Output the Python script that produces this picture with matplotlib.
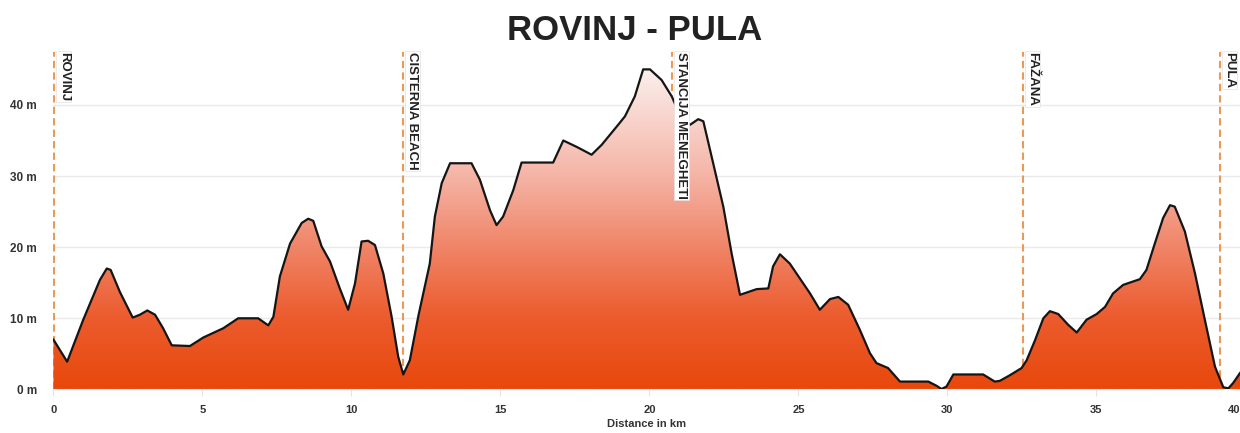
import numpy as np
import matplotlib
matplotlib.use("Agg")
import matplotlib.pyplot as plt
from matplotlib.colors import LinearSegmentedColormap

plt.rcParams["font.family"] = ["Liberation Sans", "DejaVu Sans"]

# profil trase (km, m) ocitano sa slike
distance_km = [
    0.0, 0.46, 1.0, 1.56, 1.79, 1.92, 2.23, 2.66, 2.9, 3.15, 3.41, 3.68, 3.97,
    4.58, 5.03, 5.7, 6.2, 6.87, 7.21, 7.38, 7.6, 7.94, 8.33, 8.55, 8.72, 9.0,
    9.28, 9.61, 9.89, 10.12, 10.34, 10.56, 10.79, 11.07, 11.35, 11.57, 11.74,
    11.96, 12.25, 12.63, 12.8, 13.03, 13.31, 14.03, 14.31, 14.65, 14.87, 15.09,
    15.43, 15.71, 16.77, 17.11, 17.56, 18.06, 18.4, 18.95, 19.18, 19.51, 19.79,
    20.02, 20.41, 20.75, 20.95, 21.15, 21.36, 21.64, 21.81, 22.14, 22.48, 22.76,
    23.04, 23.32, 23.6, 23.99, 24.15, 24.38, 24.71, 25.05, 25.39, 25.72, 26.06,
    26.34, 26.67, 27.06, 27.4, 27.62, 28.01, 28.41, 29.36, 29.64, 29.8, 29.97,
    30.2, 31.2, 31.59, 31.76, 32.1, 32.49, 32.66, 32.94, 33.22, 33.44, 33.72,
    34.05, 34.34, 34.67, 35.01, 35.29, 35.56, 35.9, 36.46, 36.68, 36.96, 37.24,
    37.47, 37.63, 37.97, 38.31, 38.64, 38.98, 39.26, 39.43, 39.59, 39.82,
]
elevation_m = [
    7.0, 3.9, 9.8, 15.4, 17.0, 16.8, 13.7, 10.1, 10.5, 11.1, 10.5, 8.6, 6.2,
    6.1, 7.3, 8.6, 10.0, 10.0, 9.0, 10.2, 15.9, 20.5, 23.4, 24.0, 23.7, 20.1,
    18.0, 14.2, 11.2, 14.9, 20.8, 20.9, 20.3, 16.3, 10.2, 4.6, 2.1,
    4.1, 10.4, 17.7, 24.3, 29.0, 31.8, 31.8, 29.5, 25.2, 23.1, 24.3,
    28.0, 31.9, 31.9, 35.0, 34.1, 33.0, 34.4, 37.2, 38.4, 41.2, 45.0,
    45.0, 43.5, 41.2, 39.3, 38.0, 37.2, 38.0, 37.7, 31.8, 25.7, 19.1,
    13.3, 13.7, 14.1, 14.2, 17.3, 19.0, 17.7, 15.6, 13.5, 11.2, 12.7,
    13.0, 11.9, 8.4, 5.1, 3.7, 3.0, 1.1, 1.1, 0.5, 0.05, 0.4,
    2.1, 2.1, 1.1, 1.2, 2.0, 3.0, 4.1, 6.9, 10.0, 11.0, 10.6,
    9.1, 8.0, 9.8, 10.6, 11.6, 13.5, 14.7, 15.5, 16.8, 20.5, 24.1,
    25.9, 25.7, 22.2, 16.3, 9.8, 3.2, 0.3, 0.15, 0.9, 2.3,
]

# mjesta na trasi
place_names = ["ROVINJ", "CISTERNA BEACH", "STANCIJA MENEGHETI", "FAŽANA", "PULA"]
place_km = [0.03, 11.73, 20.75, 32.53, 39.15]

y_ticks = [0, 10, 20, 30, 40]
y_tick_labels = ["0 m", "10 m", "20 m", "30 m", "40 m"]
x_ticks = [0, 5, 10, 15, 20, 25, 30, 35, 40]

x_max = 39.82
y_max = 47.45

fig = plt.figure(figsize=(12.4, 4.33), dpi=100)
ax = fig.add_axes([0.0431, 0.1007, 0.9569, 0.7793])

# gradijent ispune
cmap = LinearSegmentedColormap.from_list("profil", [
    (0.0, "#e8480c"),
    (0.22, "#ec5c2e"),
    (0.44, "#f0866a"),
    (0.66, "#f5b6a8"),
    (0.87, "#f9dcd6"),
    (1.0, "#fdf3f1"),
])
poly = ax.fill_between(distance_km, elevation_m, 0, facecolor="none",
                       edgecolor="none", zorder=2)
grad = np.linspace(0, 1, 256).reshape(-1, 1)
img = ax.imshow(grad, extent=[0, x_max, 0, 46], aspect="auto", cmap=cmap,
                origin="lower", zorder=2, interpolation="bilinear")
img.set_clip_path(poly.get_paths()[0], transform=ax.transData)

ax.plot(distance_km, elevation_m, color="#151515", linewidth=1.6, zorder=3,
        solid_joinstyle="round")

# okomite oznake mjesta
for name, km in zip(place_names, place_km):
    ax.axvline(km, color="#eb9a55", linestyle=(0, (3.5, 2.0)), linewidth=1.5,
               zorder=1)
    ax.annotate(name, xy=(km, y_max), xytext=(2.5, 0), textcoords="offset points",
                rotation=-90, ha="left", va="top", fontsize=9.5, fontweight="bold",
                color="#222222", zorder=4,
                bbox=dict(boxstyle="square,pad=0.1", facecolor="white",
                          edgecolor="#e2e2e2", linewidth=0.5))

ax.set_xlim(0, x_max)
ax.set_ylim(0, y_max)

ax.set_yticks(y_ticks)
ax.set_yticklabels(y_tick_labels, fontsize=8.5, fontweight="bold", color="#333333")
ax.tick_params(axis="y", length=0, pad=12)
ax.grid(axis="y", color="#eaeaea", linewidth=1)
ax.set_axisbelow(True)

tick_pos = [min(t, x_max) for t in x_ticks]
ax.set_xticks(tick_pos)
ax.set_xticklabels([str(t) for t in x_ticks], fontsize=8, fontweight="bold",
                   color="#333333")
ax.get_xticklabels()[-1].set_ha("right")
ax.tick_params(axis="x", length=5, color="#e4e4e4", pad=6)
ax.set_xlabel("Distance in km", fontsize=8, fontweight="bold", color="#333333",
              labelpad=3)

for side in ["top", "left", "right"]:
    ax.spines[side].set_visible(False)
ax.spines["bottom"].set_color("#e8e8e8")

fig.text(0.512, 0.93, "ROVINJ - PULA", ha="center", va="center", fontsize=25,
         fontweight="bold", color="#222222")

fig.savefig("out.png", dpi=100)
